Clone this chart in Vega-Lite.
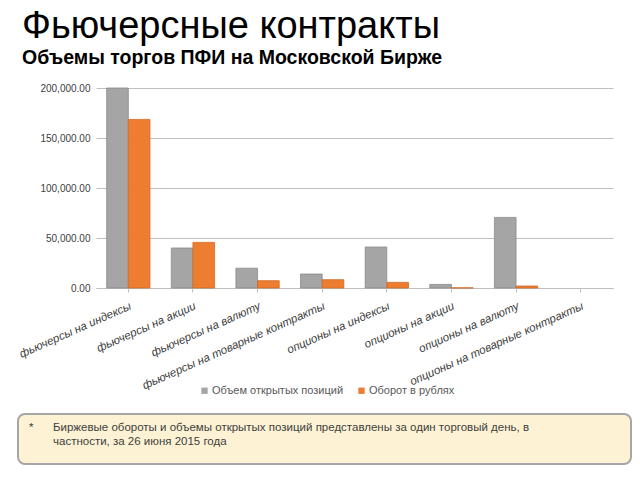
{
  "$schema": "https://vega.github.io/schema/vega-lite/v6.json",
  "padding": {"left": 17, "top": 7, "right": 5, "bottom": 5},
  "background": "white",
  "config": {
    "font": "Liberation Sans",
    "view": {"stroke": null}
  },
  "title": {
    "text": "Фьючерсные контракты",
    "subtitle": "Объемы торгов ПФИ на Московской Бирже",
    "anchor": "start",
    "dx": 5,
    "font": "Liberation Sans",
    "fontSize": 38,
    "fontWeight": "normal",
    "color": "#000000",
    "subtitleFont": "Liberation Sans",
    "subtitleFontSize": 19.5,
    "subtitleFontWeight": "bold",
    "subtitleColor": "#000000",
    "subtitlePadding": 3,
    "offset": 16
  },
  "spacing": 17,
  "resolve": {"legend": {"color": "independent", "stroke": "independent"}},
  "vconcat": [
    {
      "width": 517,
      "height": 200,
      "data": {
        "values": [
          {"cat": "фьючерсы на индексы", "series": "Объем открытых позиций", "value": 200000},
          {"cat": "фьючерсы на индексы", "series": "Оборот в рублях", "value": 168600},
          {"cat": "фьючерсы на акции", "series": "Объем открытых позиций", "value": 40000},
          {"cat": "фьючерсы на акции", "series": "Оборот в рублях", "value": 45600},
          {"cat": "фьючерсы на валюту", "series": "Объем открытых позиций", "value": 19800},
          {"cat": "фьючерсы на валюту", "series": "Оборот в рублях", "value": 7300},
          {"cat": "фьючерсы на товарные контракты", "series": "Объем открытых позиций", "value": 14000},
          {"cat": "фьючерсы на товарные контракты", "series": "Оборот в рублях", "value": 8300},
          {"cat": "опционы на индексы", "series": "Объем открытых позиций", "value": 41000},
          {"cat": "опционы на индексы", "series": "Оборот в рублях", "value": 5600},
          {"cat": "опционы на акции", "series": "Объем открытых позиций", "value": 3600},
          {"cat": "опционы на акции", "series": "Оборот в рублях", "value": 200},
          {"cat": "опционы на валюту", "series": "Объем открытых позиций", "value": 70600},
          {"cat": "опционы на валюту", "series": "Оборот в рублях", "value": 2000},
          {"cat": "опционы на товарные контракты", "series": "Объем открытых позиций", "value": 0},
          {"cat": "опционы на товарные контракты", "series": "Оборот в рублях", "value": 0}
        ]
      },
      "mark": {"type": "bar", "strokeWidth": 0.8},
      "encoding": {
        "x": {
          "field": "cat",
          "type": "nominal",
          "sort": null,
          "scale": {"paddingInner": 0.33, "paddingOuter": 0.165},
          "axis": {
            "title": null,
            "labelAngle": -24,
            "labelLimit": 400,
            "labelFont": "Liberation Sans",
            "labelFontStyle": "italic",
            "labelFontSize": 11.5,
            "labelColor": "#404040",
            "labelPadding": 8,
            "domainColor": "#bfbfbf",
            "domainWidth": 1,
            "tickColor": "#bfbfbf",
            "tickSize": 4,
            "grid": false
          }
        },
        "xOffset": {"field": "series", "type": "nominal", "sort": ["Объем открытых позиций", "Оборот в рублях"]},
        "y": {
          "field": "value",
          "type": "quantitative",
          "scale": {"domain": [0, 200000]},
          "axis": {
            "title": null,
            "values": [0, 50000, 100000, 150000, 200000],
            "format": ",.2f",
            "labelFont": "Liberation Sans",
            "labelFontSize": 10,
            "labelColor": "#404040",
            "labelPadding": 6,
            "ticks": false,
            "domain": false,
            "gridColor": "#bfbfbf",
            "gridWidth": 1.2
          }
        },
        "color": {
          "field": "series",
          "type": "nominal",
          "sort": ["Объем открытых позиций", "Оборот в рублях"],
          "scale": {"domain": ["Объем открытых позиций", "Оборот в рублях"], "range": ["#a5a5a5", "#ed7d31"]},
          "legend": {
            "title": null,
            "orient": "none",
            "legendX": 103,
            "legendY": 297,
            "direction": "horizontal",
            "symbolType": "square",
            "symbolSize": 40,
            "symbolStrokeWidth": 0,
            "labelFont": "Liberation Sans",
            "labelFontSize": 11,
            "labelColor": "#595959",
            "columnPadding": 12,
            "labelOffset": 2
          }
        },
        "stroke": {
          "field": "series",
          "type": "nominal",
          "scale": {"domain": ["Объем открытых позиций", "Оборот в рублях"], "range": ["#8c8c8c", "#d06a25"]},
          "legend": null
        },
        "strokeOpacity": {"condition": {"test": "datum.value > 0", "value": 1}, "value": 0}
      }
    },
    {
      "width": 517,
      "height": 50,
      "resolve": {"scale": {"x": "independent", "y": "independent"}},
      "layer": [
        {
          "data": {"values": [{"box": "footnote"}]},
          "mark": {"type": "rect", "fill": "#fdf3d4", "stroke": "#a6a6a6", "strokeWidth": 2, "cornerRadius": 7},
          "encoding": {
            "x": {"datum": 0, "type": "quantitative", "scale": {"domain": [0, 1], "range": [-78, 535]}, "axis": null},
            "x2": {"datum": 1},
            "y": {"datum": 0, "type": "quantitative", "scale": {"domain": [0, 1], "range": [0, 50]}, "axis": null},
            "y2": {"datum": 1}
          }
        },
        {
          "data": {
            "values": [
              {"col": "a", "row": "1", "text": "*"},
              {"col": "b", "row": "1", "text": "Биржевые обороты и объемы открытых позиций представлены за один торговый день, в"},
              {"col": "b", "row": "2", "text": "частности, за  26 июня 2015 года"}
            ]
          },
          "mark": {"type": "text", "align": "left", "baseline": "middle", "fontSize": 11.5, "color": "#404040", "font": "Liberation Sans"},
          "encoding": {
            "x": {"field": "col", "type": "nominal", "scale": {"type": "point", "range": [-67, -43], "padding": 0}, "axis": null},
            "y": {"field": "row", "type": "nominal", "scale": {"type": "point", "range": [14, 28], "padding": 0}, "axis": null},
            "text": {"field": "text"}
          }
        }
      ]
    }
  ]
}
